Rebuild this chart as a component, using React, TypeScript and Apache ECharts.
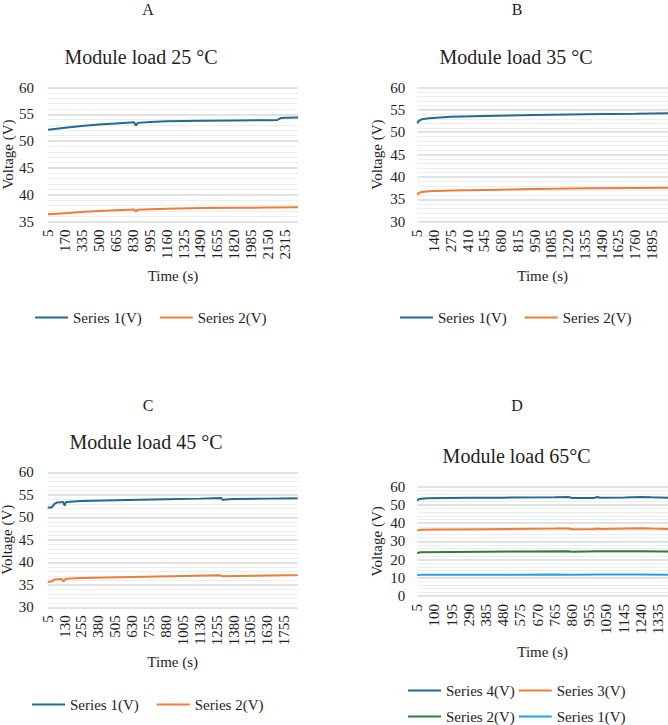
import React, { useEffect, useRef } from "react";
import * as echarts from "echarts";

type Pt = [number, number];

const FONT = "Liberation Serif";
const INK = "#1e1e1e";
const BLUE = "#1f6b94";
const ORANGE = "#ef7d36";
const GREEN = "#2e7f35";
const SKY = "#22a3de";

// Readings are logged every 5 s; each run ends at the last time below.
const RUN_END_A = 2440;
const RUN_END_B = 2025;
const RUN_END_C = 1855;
const RUN_END_D = 1390;

// Every n-th time stamp is labelled on the time axis.
const LABEL_EVERY_A = 33; // 165 s
const LABEL_EVERY_B = 27; // 135 s
const LABEL_EVERY_C = 25; // 125 s
const LABEL_EVERY_D = 19; // 95 s

const panelTags = ["A", "B", "C", "D"];
const panelTitles = [
  "Module load 25 °C",
  "Module load 35 °C",
  "Module load 45 °C",
  "Module load 65°C",
];

// Voltage traces as [time (s), volts] readings.
const a25Series1: Pt[] = [
  [5, 52.1], [170, 52.5], [335, 52.8], [500, 53.1], [665, 53.3], [845, 53.5],
  [862, 52.9], [880, 53.4], [1000, 53.55], [1160, 53.7], [1490, 53.8],
  [1820, 53.85], [2150, 53.9], [2240, 53.95], [2270, 54.3], [2330, 54.35],
  [2440, 54.4],
];
const a25Series2: Pt[] = [
  [5, 36.35], [170, 36.55], [335, 36.75], [500, 36.95], [665, 37.1],
  [845, 37.25], [862, 36.85], [880, 37.2], [1000, 37.3], [1160, 37.4],
  [1490, 37.5], [1820, 37.55], [2150, 37.6], [2440, 37.65],
];

const b35Series1: Pt[] = [
  [5, 52.0], [15, 52.5], [40, 52.9], [100, 53.15], [275, 53.45], [545, 53.65],
  [950, 53.85], [1355, 54.0], [1760, 54.15], [2025, 54.25],
];
const b35Series2: Pt[] = [
  [5, 36.0], [15, 36.4], [40, 36.65], [100, 36.8], [275, 36.95], [545, 37.1],
  [950, 37.3], [1355, 37.45], [1760, 37.55], [2025, 37.6],
];

const c45Series1: Pt[] = [
  [5, 52.2], [35, 52.2], [55, 53.0], [75, 53.3], [120, 53.4], [128, 52.6],
  [140, 53.4], [255, 53.6], [505, 53.8], [880, 54.0], [1130, 54.15],
  [1290, 54.3], [1300, 53.85], [1320, 53.95], [1380, 54.05], [1630, 54.15],
  [1855, 54.25],
];
const c45Series2: Pt[] = [
  [5, 35.7], [35, 35.75], [55, 36.2], [110, 36.3], [122, 35.75], [140, 36.35],
  [255, 36.5], [630, 36.75], [1005, 36.95], [1280, 37.1], [1300, 36.9],
  [1400, 36.95], [1630, 37.05], [1855, 37.15],
];

const d65Series4: Pt[] = [
  [5, 52.3], [15, 53.3], [60, 53.7], [290, 53.9], [480, 54.0], [765, 54.2],
  [840, 54.3], [860, 53.8], [980, 53.8], [1000, 54.3], [1015, 53.9],
  [1150, 54.1], [1240, 54.4], [1300, 54.2], [1390, 54.0],
];
const d65Series3: Pt[] = [
  [5, 35.8], [20, 36.3], [100, 36.5], [385, 36.7], [765, 37.0], [840, 37.1],
  [860, 36.7], [980, 36.8], [1000, 37.1], [1015, 36.8], [1240, 37.2],
  [1300, 37.0], [1390, 36.8],
];
const d65Series2: Pt[] = [
  [5, 23.5], [20, 24.0], [195, 24.2], [575, 24.4], [840, 24.5], [860, 24.3],
  [1000, 24.5], [1240, 24.6], [1390, 24.4],
];
const d65Series1: Pt[] = [
  [5, 11.4], [20, 11.6], [480, 11.7], [765, 11.8], [860, 11.6], [1000, 11.8],
  [1240, 11.8], [1390, 11.6],
];

function timeStamps(end: number): string[] {
  const out: string[] = [];
  for (let t = 5; t <= end; t += 5) out.push(String(t));
  return out;
}

// map [seconds, volts] onto the category index of the 5 s clock
function onClock(points: Pt[]): Pt[] {
  return points.map(([t, v]) => [(t - 5) / 5, v]);
}

const text = (size: number) => ({
  fontFamily: FONT,
  fontSize: size,
  fontWeight: "normal" as const,
  color: INK,
});

interface LegendRow {
  left: number;
  top: number;
  gap: number;
  names: string[];
}

interface Box {
  left: number;
  top: number;
  width: number;
  height: number;
}

interface PanelSpec {
  tag: string;
  tagX: number;
  tagTop: number;
  title: string;
  titleX: number;
  titleTop: number;
  grid: Box;
  yMin: number;
  yMax: number;
  yStep: number;
  yMinorSplit: number;
  yLabelMargin: number;
  yNameGap: number;
  xNameGap: number;
  times: string[];
  labelEvery: number;
  series: { name: string; color: string; points: Pt[] }[];
  legends: LegendRow[];
}

function buildOption(p: PanelSpec): echarts.EChartsCoreOption {
  return {
    animation: false,
    backgroundColor: "#ffffff",
    textStyle: { fontFamily: FONT, color: INK },
    title: [
      {
        text: p.tag,
        left: p.tagX,
        top: p.tagTop,
        padding: 0,
        textAlign: "center",
        textStyle: text(16),
      },
      {
        text: p.title,
        left: p.titleX,
        top: p.titleTop,
        padding: 0,
        textAlign: "center",
        textStyle: text(20),
      },
    ],
    legend: p.legends.map((row) => ({
      left: row.left,
      top: row.top,
      padding: 0,
      itemGap: row.gap,
      itemWidth: 33,
      itemHeight: 2,
      icon: "rect",
      selectedMode: false,
      textStyle: text(15),
      data: row.names,
    })),
    grid: { ...p.grid, containLabel: false, outerBoundsMode: "none" },
    xAxis: {
      type: "category",
      data: p.times,
      boundaryGap: false,
      axisLine: { show: false },
      axisTick: { show: false },
      axisLabel: {
        ...text(15),
        interval: p.labelEvery - 1,
        rotate: 90,
        margin: 8,
      },
      splitLine: { show: false },
      name: "Time (s)",
      nameLocation: "middle",
      nameGap: p.xNameGap,
      nameMoveOverlap: false,
      nameTextStyle: text(15),
    },
    yAxis: {
      type: "value",
      min: p.yMin,
      max: p.yMax,
      interval: p.yStep,
      axisLine: { show: false },
      axisTick: { show: false },
      axisLabel: { ...text(15), margin: p.yLabelMargin },
      splitLine: { show: true, lineStyle: { color: "#d9d9d9", width: 1.5 } },
      minorTick: { show: false, splitNumber: p.yMinorSplit },
      minorSplitLine: { show: true, lineStyle: { color: "#ededed", width: 1 } },
      name: "Voltage (V)",
      nameLocation: "middle",
      nameRotate: 90,
      nameGap: p.yNameGap,
      nameMoveOverlap: false,
      nameTextStyle: text(15),
    },
    series: p.series.map((s) => ({
      type: "line",
      name: s.name,
      data: onClock(s.points),
      showSymbol: false,
      symbol: "none",
      color: s.color,
      lineStyle: { color: s.color, width: 2 },
    })),
  };
}

const panels: { box: Box; spec: PanelSpec }[] = [
  {
    box: { left: 0, top: 0, width: 334, height: 390 },
    spec: {
      tag: panelTags[0], tagX: 148, tagTop: 1,
      title: panelTitles[0], titleX: 141, titleTop: 47,
      grid: { left: 48, top: 87.5, width: 250, height: 134 },
      yMin: 35, yMax: 60, yStep: 5, yMinorSplit: 5, yLabelMargin: 14,
      yNameGap: 33, xNameGap: 47,
      times: timeStamps(RUN_END_A), labelEvery: LABEL_EVERY_A,
      series: [
        { name: "Series 1(V)", color: BLUE, points: a25Series1 },
        { name: "Series 2(V)", color: ORANGE, points: a25Series2 },
      ],
      legends: [{ left: 35, top: 310, gap: 18, names: ["Series 1(V)", "Series 2(V)"] }],
    },
  },
  {
    box: { left: 334, top: 0, width: 334, height: 390 },
    spec: {
      tag: panelTags[1], tagX: 183, tagTop: 1,
      title: panelTitles[1], titleX: 182, titleTop: 47,
      grid: { left: 83.3, top: 87.5, width: 250.7, height: 134.2 },
      yMin: 30, yMax: 60, yStep: 5, yMinorSplit: 5, yLabelMargin: 12,
      yNameGap: 33, xNameGap: 47,
      times: timeStamps(RUN_END_B), labelEvery: LABEL_EVERY_B,
      series: [
        { name: "Series 1(V)", color: BLUE, points: b35Series1 },
        { name: "Series 2(V)", color: ORANGE, points: b35Series2 },
      ],
      legends: [{ left: 66, top: 310, gap: 18, names: ["Series 1(V)", "Series 2(V)"] }],
    },
  },
  {
    box: { left: 0, top: 390, width: 334, height: 335 },
    spec: {
      tag: panelTags[2], tagX: 148, tagTop: 7,
      title: panelTitles[2], titleX: 146, titleTop: 42,
      grid: { left: 47.7, top: 82.3, width: 250, height: 135 },
      yMin: 30, yMax: 60, yStep: 5, yMinorSplit: 5, yLabelMargin: 14,
      yNameGap: 33, xNameGap: 47,
      times: timeStamps(RUN_END_C), labelEvery: LABEL_EVERY_C,
      series: [
        { name: "Series 1(V)", color: BLUE, points: c45Series1 },
        { name: "Series 2(V)", color: ORANGE, points: c45Series2 },
      ],
      legends: [{ left: 32, top: 307, gap: 18, names: ["Series 1(V)", "Series 2(V)"] }],
    },
  },
  {
    box: { left: 334, top: 390, width: 334, height: 335 },
    spec: {
      tag: panelTags[3], tagX: 183, tagTop: 7,
      title: panelTitles[3], titleX: 182.6, titleTop: 56,
      grid: { left: 83.3, top: 96.7, width: 250.7, height: 109.3 },
      yMin: 0, yMax: 60, yStep: 10, yMinorSplit: 5, yLabelMargin: 12,
      yNameGap: 33, xNameGap: 48,
      times: timeStamps(RUN_END_D), labelEvery: LABEL_EVERY_D,
      series: [
        { name: "Series 4(V)", color: BLUE, points: d65Series4 },
        { name: "Series 3(V)", color: ORANGE, points: d65Series3 },
        { name: "Series 2(V)", color: GREEN, points: d65Series2 },
        { name: "Series 1(V)", color: SKY, points: d65Series1 },
      ],
      legends: [
        { left: 74, top: 293, gap: 4, names: ["Series 4(V)", "Series 3(V)"] },
        { left: 74, top: 319, gap: 4, names: ["Series 2(V)", "Series 1(V)"] },
      ],
    },
  },
];

function Panel({ spec, box }: { spec: PanelSpec; box: Box }) {
  const ref = useRef<HTMLDivElement | null>(null);
  useEffect(() => {
    if (!ref.current) return;
    const chart = echarts.init(ref.current, undefined, { renderer: "svg" });
    chart.setOption(buildOption(spec));
    return () => chart.dispose();
  }, [spec]);
  return (
    <div
      ref={ref}
      style={{ position: "absolute", left: box.left, top: box.top, width: box.width, height: box.height }}
    />
  );
}

export default function App() {
  return (
    <div
      style={{
        position: "fixed",
        left: 0,
        top: 0,
        width: 668,
        height: 725,
        background: "#ffffff",
        overflow: "hidden",
      }}
    >
      {panels.map((p) => (
        <Panel key={p.spec.tag} spec={p.spec} box={p.box} />
      ))}
    </div>
  );
}
